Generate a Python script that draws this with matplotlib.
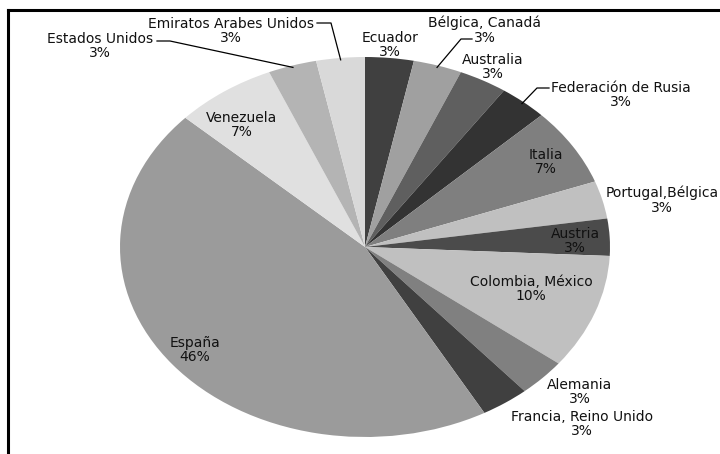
import numpy as np
import matplotlib.pyplot as plt

# paises en orden horario desde las 12
paises = ['Ecuador', 'Bélgica, Canadá', 'Australia', 'Federación de Rusia', 'Italia',
          'Portugal,Bélgica', 'Austria', 'Colombia, México', 'Alemania',
          'Francia, Reino Unido', 'España', 'Venezuela', 'Estados Unidos',
          'Emiratos Arabes Unidos']
# porcentajes que muestran las etiquetas
etiquetas_pct = [3, 3, 3, 3, 7, 3, 3, 10, 3, 3, 46, 7, 3, 3]
# tamano de cada porcion medido en el grafico
porciones = [3.2, 3.2, 3.2, 3.2, 6.6, 3.2, 3.15, 9.75, 3.2, 3.2, 45.0, 6.7, 3.2, 3.2]
grises = ['#404040', '#a0a0a0', '#5f5f5f', '#333333', '#7f7f7f', '#c0c0c0', '#4b4b4b',
          '#c0c0c0', '#808080', '#404040', '#9b9b9b', '#e0e0e0', '#b4b4b4', '#d9d9d9']

# posicion de las etiquetas (pixeles) y codo de la linea guia
pos_etiquetas = [(390, 45), (485, 30), (493, 67), (621, 95), (546, 162),
                 (662, 200), (575, 241), (531, 289), (580, 392), (582, 424),
                 (195, 350), (242, 125), (100, 46), (231, 31)]
guias = {1: [(472, 39), (461, 39)], 3: [(549, 88), (537, 88)],
         12: [(157, 41), (170, 41)], 13: [(317, 23), (331, 23)]}

W, H = 720, 454
cx, cy = 365, 247      # centro del pastel en pixeles
rx, ry = 245, 190      # el pastel esta estirado en horizontal


def px(x, y):
    return (x - cx) / rx, (cy - y) / ry


fig = plt.figure(figsize=(7.2, 4.54), dpi=100)
ax = fig.add_axes([0, 0, 1, 1])
wedges, _ = ax.pie(porciones, colors=grises, startangle=90, counterclock=False,
                   radius=1, center=(0, 0), wedgeprops=dict(linewidth=0))
ax.set_aspect('auto')
ax.set_xlim(-cx / rx, (W - cx) / rx)
ax.set_ylim(-(H - cy) / ry, cy / ry)
ax.axis('off')

for i, (nombre, v) in enumerate(zip(paises, etiquetas_pct)):
    x, y = px(*pos_etiquetas[i])
    ax.text(x, y, f'{nombre}\n{v}%', ha='center', va='center', fontsize=10,
            family='DejaVu Sans', linespacing=1.05, color='#111111')
    if i in guias:
        w = wedges[i]
        ang = np.deg2rad((w.theta1 + w.theta2) / 2)
        pts = [px(*p) for p in guias[i]] + [(0.99 * np.cos(ang), 0.99 * np.sin(ang))]
        ax.plot([p[0] for p in pts], [p[1] for p in pts], color='black', lw=0.9)

# marco (solo se ven los bordes superior e izquierdo)
x0, y0 = px(8, 10)
x1, y1 = px(W + 5, H + 5)
ax.plot([x0, x0], [y1, y0], color='black', lw=2.2)
ax.plot([x0, x1], [y0, y0], color='black', lw=2.2)

fig.savefig('out.png', dpi=100)
